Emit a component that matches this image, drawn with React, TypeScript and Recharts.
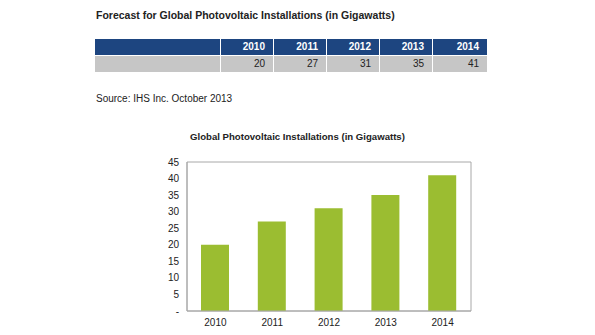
import React from "react";
import { BarChart, Bar, XAxis, YAxis, CartesianGrid } from "recharts";

const years = ["2010", "2011", "2012", "2013", "2014"];
const gigawatts = [20, 27, 31, 35, 41];
const yTicks = [0, 5, 10, 15, 20, 25, 30, 35, 40, 45];

const data = years.map((y, i) => ({ year: y, gw: gigawatts[i] }));

const font = "'Liberation Sans', Arial, sans-serif";
const blue = "#1d4580";
const gray = "#c6c6c6";
const green = "#9bbd31";
const frame = "#a8a8a8";

export default function App() {
  const cell = (bg: string, color: string, bold: boolean, w: number, text: string, key: string) => (
    <div
      key={key}
      style={{
        width: w,
        height: 16,
        background: bg,
        color,
        fontWeight: bold ? 700 : 400,
        textAlign: "right",
        paddingRight: 8,
        boxSizing: "border-box",
        lineHeight: "16px",
        marginRight: 1,
      }}
    >
      {text}
    </div>
  );

  return (
    <div style={{ position: "absolute", left: 0, top: 0, width: 595, height: 335, background: "#fff", fontFamily: font, fontSize: 10 }}>
      <div style={{ position: "absolute", left: 96, top: 9, fontWeight: 700, fontSize: 10.5, color: "#222" }}>
        Forecast for Global Photovoltaic Installations (in Gigawatts)
      </div>

      <div style={{ position: "absolute", left: 95, top: 39 }}>
        <div style={{ display: "flex", marginBottom: 1 }}>
          {cell(blue, "#fff", true, 125, "", "h0")}
          {years.map((y, i) => cell(blue, "#fff", true, i === years.length - 1 ? 54 : 52, y, "h" + y))}
        </div>
        <div style={{ display: "flex" }}>
          {cell(gray, "#222", false, 125, "", "v0")}
          {gigawatts.map((v, i) => cell(gray, "#222", false, i === gigawatts.length - 1 ? 54 : 52, String(v), "v" + i))}
        </div>
      </div>

      <div style={{ position: "absolute", left: 96, top: 93, color: "#222" }}>Source: IHS Inc. October 2013</div>

      <div style={{ position: "absolute", left: 0, top: 131, width: 595, textAlign: "center", fontWeight: 700, fontSize: 9.6, color: "#222" }}>
        Global Photovoltaic Installations (in Gigawatts)
      </div>

      <div style={{ position: "absolute", left: 0, top: 0 }}>
        <BarChart
          width={595}
          height={335}
          data={data}
          margin={{ top: 162, right: 124, bottom: 4, left: 157 }}
        >
          <CartesianGrid
            stroke={frame}
            fill="none"
            horizontalCoordinatesGenerator={({ offset }: any) => [offset.top, offset.top + offset.height]}
            verticalCoordinatesGenerator={({ offset }: any) => [offset.left, offset.left + offset.width]}
          />
          <XAxis
            dataKey="year"
            height={20}
            tickLine={false}
            axisLine={{ stroke: frame }}
            tick={{ fill: "#222", fontSize: 10, fontFamily: font }}
          />
          <YAxis
            width={30}
            domain={[0, 45]}
            ticks={yTicks}
            interval={0}
            tickLine={false}
            axisLine={{ stroke: frame }}
            tickFormatter={(v: number) => (v === 0 ? "-" : String(v))}
            tick={{ fill: "#222", fontSize: 10, fontFamily: font }}
          />
          <Bar dataKey="gw" fill={green} barSize={28} isAnimationActive={false} />
        </BarChart>
      </div>
    </div>
  );
}
